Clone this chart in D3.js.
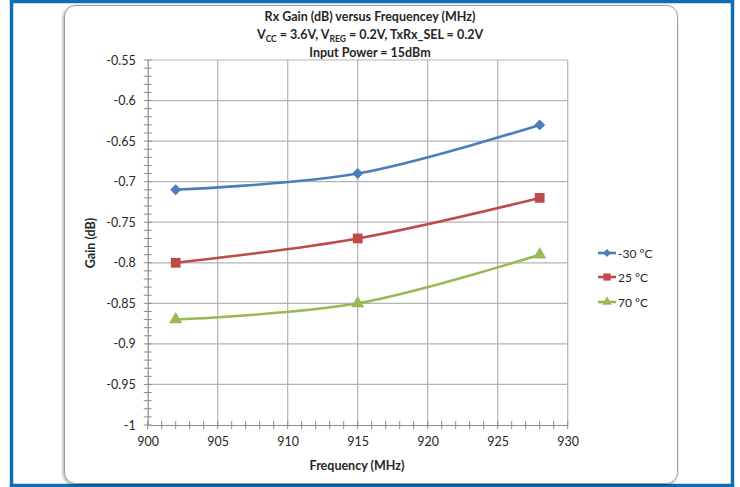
<!DOCTYPE html>
<html>
<head>
<meta charset="utf-8">
<script src="https://cdn.jsdelivr.net/npm/d3@7"></script>
<style>
  html, body { margin: 0; padding: 0; background: #fff; }
  svg { display: block; }
  text { font-family: Lato, "Open Sans", "Liberation Sans", sans-serif; fill: #262626; }
</style>
</head>
<body>
<script>
// Measured Rx gain vs frequency at three temperatures
const frequencies = [902, 915, 928];
const gainMinus30 = [-0.71, -0.69, -0.63];
const gain25 = [-0.80, -0.77, -0.72];
const gain70 = [-0.87, -0.85, -0.79];
const seriesNames = ["-30 °C", "25 °C", "70 °C"];
const xTicks = [900, 905, 910, 915, 920, 925, 930];
const yTicks = [-0.55, -0.6, -0.65, -0.7, -0.75, -0.8, -0.85, -0.9, -0.95, -1];

const W = 740, H = 487;
const svg = d3.select("body").append("svg").attr("width", W).attr("height", H);

// Outer blue frame
svg.append("rect").attr("x", 11.5).attr("y", 1.5).attr("width", 721).attr("height", 484)
  .attr("fill", "#fff").attr("stroke", "#0f6db3").attr("stroke-width", 3.5);

// Chart area card with soft shadow
const defs = svg.append("defs");
const f = defs.append("filter").attr("id", "sh").attr("x", "-5%").attr("y", "-5%").attr("width", "110%").attr("height", "110%");
f.append("feDropShadow").attr("dx", -1).attr("dy", 1).attr("stdDeviation", 1.5).attr("flood-color", "#000").attr("flood-opacity", 0.35);
svg.append("rect").attr("x", 64.5).attr("y", 5.5).attr("width", 613).attr("height", 478).attr("rx", 11)
  .attr("fill", "#fff").attr("stroke", "#9a9a9a").attr("stroke-width", 1).attr("filter", "url(#sh)");

const x = d3.scaleLinear().domain([900, 930]).range([147.7, 567.7]);
const y = d3.scaleLinear().domain([-1, -0.55]).range([425, 60]);

const gridColor = "#b3b3b3", axisColor = "#8c8c8c";

// Gridlines
svg.append("g").selectAll("line").data(yTicks.filter(d => d !== -1)).join("line")
  .attr("x1", x(900)).attr("x2", x(930)).attr("y1", d => y(d)).attr("y2", d => y(d))
  .attr("stroke", gridColor).attr("stroke-width", 1.2);
svg.append("g").selectAll("line").data(xTicks.filter(d => d !== 900)).join("line")
  .attr("x1", d => x(d)).attr("x2", d => x(d)).attr("y1", y(-0.55)).attr("y2", y(-1))
  .attr("stroke", gridColor).attr("stroke-width", 1.2);

// Axes with major and minor ticks (labels use a plain hyphen for negatives)
const yAxis = d3.axisLeft(y).tickValues(yTicks).tickSize(0).tickPadding(12).tickFormat(d => String(+d.toFixed(2)));
const gy = svg.append("g").attr("transform", `translate(${x(900)},0)`).call(yAxis);
gy.select(".domain").attr("stroke", axisColor).attr("stroke-width", 1.2);
gy.selectAll("text").attr("font-size", 12.5).attr("fill", "#404040");
const yMinor = d3.range(-100, -54, 1).map(v => v / 100);
svg.append("g").selectAll("line").data(yMinor).join("line")
  .attr("x1", x(900) - 4).attr("x2", x(900) + 4).attr("y1", d => y(d)).attr("y2", d => y(d))
  .attr("stroke", axisColor).attr("stroke-width", 1);

const xAxis = d3.axisBottom(x).tickValues(xTicks).tickSize(0).tickPadding(12);
const gx = svg.append("g").attr("transform", `translate(0,${y(-1)})`).call(xAxis);
gx.select(".domain").attr("stroke", axisColor).attr("stroke-width", 1.2);
gx.selectAll("text").attr("font-size", 12.5).attr("fill", "#404040");
const xMinor = d3.range(900, 931, 1);
svg.append("g").selectAll("line").data(xMinor).join("line")
  .attr("x1", d => x(d)).attr("x2", d => x(d)).attr("y1", y(-1) - 4).attr("y2", y(-1) + 4)
  .attr("stroke", axisColor).attr("stroke-width", 1);

// Titles
const title = svg.append("text").attr("x", 370).attr("text-anchor", "middle").attr("font-size", 12.5).attr("font-weight", "bold");
title.append("tspan").attr("x", 370).attr("y", 21).text("Rx Gain (dB) versus Frequencey (MHz)");
const l2 = svg.append("text").attr("x", 370).attr("y", 39).attr("text-anchor", "middle").attr("font-size", 12.5).attr("font-weight", "bold");
l2.append("tspan").text("V");
l2.append("tspan").attr("font-size", 8.5).attr("dy", 3).text("CC");
l2.append("tspan").attr("dy", -3).text(" = 3.6V, V");
l2.append("tspan").attr("font-size", 8.5).attr("dy", 3).text("REG");
l2.append("tspan").attr("dy", -3).text(" = 0.2V, TxRx_SEL = 0.2V");
svg.append("text").attr("x", 370).attr("y", 57).attr("text-anchor", "middle").attr("font-size", 12.5).attr("font-weight", "bold").text("Input Power = 15dBm");

svg.append("text").attr("x", 357).attr("y", 470).attr("text-anchor", "middle").attr("font-size", 12.5).attr("font-weight", "bold").text("Frequency (MHz)");
svg.append("text").attr("transform", "translate(95,243) rotate(-90)").attr("text-anchor", "middle").attr("font-size", 12.5).attr("font-weight", "bold").text("Gain (dB)");

// Series; diamond drawn as a square rotated 45°
const series = [
  { name: seriesNames[0], values: gainMinus30, color: "#4a7ebb", symbol: d3.symbolSquare, size: 60, rot: 45 },
  { name: seriesNames[1], values: gain25, color: "#be4b48", symbol: d3.symbolSquare, size: 95, rot: 0 },
  { name: seriesNames[2], values: gain70, color: "#98b954", symbol: d3.symbolTriangle, size: 75, rot: 0 }
];
const line = d3.line().x((d, i) => x(frequencies[i])).y(d => y(d)).curve(d3.curveCatmullRom.alpha(0.5));

series.forEach(s => {
  svg.append("path").attr("d", line(s.values)).attr("fill", "none")
    .attr("stroke", s.color).attr("stroke-width", 2.6).attr("stroke-linecap", "round");
  svg.append("g").selectAll("path").data(s.values).join("path")
    .attr("transform", (d, i) => `translate(${x(frequencies[i])},${y(d)}) rotate(${s.rot})`)
    .attr("d", d3.symbol().type(s.symbol).size(s.size)).attr("fill", s.color);
});

// Legend
const legendY = [253, 277, 302];
series.forEach((s, i) => {
  const g = svg.append("g").attr("transform", `translate(598,${legendY[i]})`);
  g.append("line").attr("x1", 0).attr("x2", 18).attr("stroke", s.color).attr("stroke-width", 2.6);
  g.append("path").attr("transform", `translate(9,0) rotate(${s.rot})`).attr("d", d3.symbol().type(s.symbol).size(s.size * 0.55)).attr("fill", s.color);
  g.append("text").attr("x", 20).attr("y", 4.5).attr("font-size", 12).attr("fill", "#404040").text(s.name);
});
</script>
</body>
</html>
